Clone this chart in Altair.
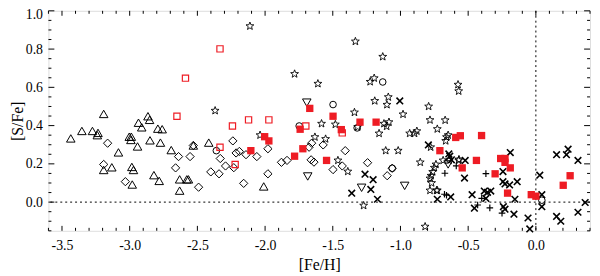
import altair as alt
import pandas as pd

# ---------------- data ----------------
tri_x = [-3.435, -3.353, -3.275, -3.234, -3.239, -3.192, -3.083, -3.132, -3.192, -3.003, -2.988, -2.991,
         -2.942, -2.984, -2.972, -2.981, -2.935, -2.911, -2.865, -2.853, -2.850, -2.792, -2.760, -2.773,
         -2.821, -2.782, -2.693, -2.631, -2.631, -2.578, -2.566, -2.530, -2.416, -2.010]
tri_y = [0.333, 0.372, 0.372, 0.362, 0.350, 0.461, 0.260, 0.182, 0.168, 0.342, 0.342, 0.325,
         0.291, 0.184, 0.168, 0.092, 0.415, 0.391, 0.449, 0.430, 0.323, 0.384, 0.381, 0.311,
         0.141, 0.111, 0.272, 0.119, 0.060, 0.119, 0.119, 0.296, 0.311, 0.082]

dia_x = [-3.163, -3.192, -3.032, -2.639, -2.661, -2.554, -2.491, -2.530, -2.331, -2.401, -2.340, -2.292,
         -2.231, -2.238, -2.214, -2.190, -2.141, -2.061, -2.158, -1.979, -1.979, -1.879, -1.838, -1.660,
         -1.639, -1.675, -1.656, -1.571, -1.498, -1.430, -1.408, -1.243, -1.098, -1.061]
dia_y = [0.308, 0.197, 0.107, 0.238, 0.179, 0.238, 0.078, 0.296, 0.228, 0.158, 0.148, 0.189,
         0.180, 0.320, 0.257, 0.265, 0.248, 0.238, 0.098, 0.279, 0.148, 0.208, 0.218, 0.221,
         0.209, 0.287, 0.308, 0.299, 0.170, 0.189, 0.269, 0.206, 0.138, 0.177]

red_open_x = [-2.588, -2.651, -2.333, -2.241, -2.122, -1.972, -2.333, -2.221, -1.699, -1.430]
red_open_y = [0.648, 0.449, 0.801, 0.398, 0.430, 0.430, 0.287, 0.197, 0.398, 0.362]

red_fill_x = [-2.105, -2.003, -1.972, -1.782, -1.721, -1.741, -1.670, -1.498, -1.437, -1.546, -1.299,
              -1.180, -0.709, -0.592, -0.558, -0.401, -0.544, -0.439, -0.301, -0.260, -0.228, -0.228,
              -0.189, -0.209, -0.034, 0.000, 0.202, 0.253]
red_fill_y = [0.269, 0.342, 0.320, 0.240, 0.279, 0.381, 0.490, 0.449, 0.379, 0.218, 0.418,
              0.418, 0.269, 0.338, 0.347, 0.348, 0.179, 0.218, 0.148, 0.228, 0.228, 0.208,
              0.179, 0.047, 0.039, 0.031, 0.088, 0.138]

star_x = [-2.112, -1.782, -2.369, -2.037, -1.333, -1.131, -1.610, -1.224, -1.194, -1.190, -1.090, -1.100,
          -0.981, -1.340, -1.583, -1.481, -1.632, -1.553, -1.316, -1.122, -1.085, -1.102, -1.158, -1.109,
          -1.017, -1.462, -1.389, -1.272, -0.792, -0.782, -0.728, -0.932, -0.896, -0.879, -0.854, -0.818,
          -0.670, -0.777, -0.738, -0.750, -0.762, -0.774, -0.782, -0.770, -0.782, -0.733, -0.660, -0.648,
          -0.666, -0.568, -0.575, -0.570, -0.641, -0.570, -0.685, -0.728]
star_y = [0.920, 0.670, 0.478, 0.350, 0.840, 0.760, 0.619, 0.629, 0.648, 0.529, 0.549, 0.509,
          0.459, 0.469, 0.410, 0.406, 0.340, 0.330, 0.393, 0.410, 0.418, 0.396, 0.359, 0.269,
          0.269, 0.218, 0.160, -0.018, 0.500, 0.429, 0.382, 0.359, 0.359, 0.371, 0.208, -0.128,
          0.428, 0.287, 0.197, 0.180, 0.158, 0.138, 0.124, 0.100, 0.061, 0.061, 0.340, 0.350,
          0.320, 0.223, 0.614, 0.580, 0.218, 0.218, 0.218, 0.061]

cross_x = [-1.005, -1.262, -1.202, -1.219, -1.360, -1.170, -0.728, -0.794, -0.643, -0.636, -0.624, -0.522,
           -0.527, -0.629, -0.471, -0.454, -0.381, -0.357, -0.333, -0.369, -0.243, -0.243, -0.228, -0.194,
           -0.138, -0.189, -0.240, -0.228, -0.162, -0.155, -0.058, 0.029, 0.044, 0.044, 0.153, 0.226,
           0.238, 0.311, 0.153, 0.184, 0.311, 0.364, -0.045]
cross_y = [0.529, 0.146, 0.117, 0.066, 0.047, 0.015, 0.015, 0.299, 0.252, 0.240, 0.221, 0.218,
           0.126, 0.027, 0.039, -0.032, 0.058, 0.051, 0.058, 0.019, 0.160, 0.107, 0.095, 0.090,
           0.107, 0.259, -0.024, -0.037, -0.063, 0.015, -0.083, 0.141, 0.039, -0.024, 0.248, 0.248,
           0.277, 0.218, -0.075, -0.100, -0.053, -0.002, -0.140]

plus_x = [-0.672, -0.588, -0.369, -0.675, -0.660, -0.430, -0.400, -0.340, -0.250]
plus_y = [0.151, 0.189, 0.149, 0.041, 0.036, -0.015, 0.020, -0.030, -0.058]

itri_x = [-1.692, -1.685, -1.287, -0.969, -0.648]
itri_y = [0.520, 0.134, 0.075, 0.085, 0.197]

circ_x = [-2.360, -1.748, -1.498, -1.131, -1.320, 0.044, -1.061]
circ_y = [0.269, 0.398, 0.510, 0.628, 0.388, 0.010, 0.177]

# axis ticks / labels
x_labels = [-3.5, -3.0, -2.5, -2.0, -1.5, -1.0, -0.5, 0.0]
x_minor = [-3.6, -3.4, -3.3, -3.2, -3.1, -2.9, -2.8, -2.7, -2.6, -2.4, -2.3, -2.2, -2.1, -1.9, -1.8,
           -1.7, -1.6, -1.4, -1.3, -1.2, -1.1, -0.9, -0.8, -0.7, -0.6, -0.4, -0.3, -0.2, -0.1, 0.1,
           0.2, 0.3, 0.4]
y_labels = [0.0, 0.2, 0.4, 0.6, 0.8, 1.0]
y_minor = [-0.15, -0.1, -0.05, 0.05, 0.1, 0.15, 0.25, 0.3, 0.35, 0.45, 0.5, 0.55, 0.65, 0.7, 0.75,
           0.85, 0.9, 0.95]

# ---------------- chart ----------------
W, H = 549, 223
FONT = "Liberation Serif"
RED = "#ee1c24"

xscale = alt.Scale(domain=[-3.6, 0.4], nice=False, zero=False)
yscale = alt.Scale(domain=[-0.15, 1.0], nice=False, zero=False)

xaxis = alt.Axis(values=x_labels, ticks=False, domain=False, grid=False,
                 labelExpr="datum.value < 0 ? '-' + format(-datum.value, '.1f') : format(datum.value, '.1f')",
                 labelFont=FONT, labelFontSize=14, labelColor="black", labelPadding=8,
                 title="[Fe/H]", titleFont=FONT, titleFontSize=16, titleFontWeight="normal",
                 titleColor="black", titlePadding=4)
yaxis = alt.Axis(values=y_labels, ticks=False, domain=False, grid=False, format=".1f",
                 labelFont=FONT, labelFontSize=14, labelColor="black", labelPadding=6,
                 labelFlush=True, labelFlushOffset=3,
                 title="[S/Fe]", titleFont=FONT, titleFontSize=16, titleFontWeight="normal",
                 titleColor="black", titleX=-31, titleBaseline="middle")

X = alt.X("x:Q", scale=xscale, axis=xaxis)
Y = alt.Y("y:Q", scale=yscale, axis=yaxis)


def xticks(vals, length):
    df = pd.DataFrame({"x": vals})
    bot = alt.Chart(df).mark_rule(color="black", strokeWidth=1).encode(
        x=X, y=alt.value(H), y2=alt.value(H - length))
    top = alt.Chart(df).mark_rule(color="black", strokeWidth=1).encode(
        x=X, y=alt.value(0), y2=alt.value(length))
    return [bot, top]


def yticks(vals, length):
    df = pd.DataFrame({"y": vals})
    left = alt.Chart(df).mark_rule(color="black", strokeWidth=1).encode(
        y=Y, x=alt.value(0), x2=alt.value(length))
    right = alt.Chart(df).mark_rule(color="black", strokeWidth=1).encode(
        y=Y, x=alt.value(W), x2=alt.value(W - length))
    return [left, right]


def pts(xs, ys, shape, size, filled=False, color="black", sw=1.0):
    df = pd.DataFrame({"x": xs, "y": ys})
    if filled:
        mk = alt.Chart(df).mark_point(shape=shape, size=size, filled=True, fill=color,
                                      strokeWidth=0, opacity=1)
    else:
        mk = alt.Chart(df).mark_point(shape=shape, size=size, filled=False, stroke=color,
                                      strokeWidth=sw, opacity=1)
    return mk.encode(x=X, y=Y)


zero_h = alt.Chart(pd.DataFrame({"y": [0.0]})).mark_rule(
    color="black", strokeWidth=1, strokeDash=[2, 3]).encode(y=Y)
zero_v = alt.Chart(pd.DataFrame({"x": [0.0]})).mark_rule(
    color="black", strokeWidth=1, strokeDash=[2, 3]).encode(x=X)

XPATH = "M-1,-1L1,1M-1,1L1,-1"
PPATH = "M-1,0L1,0M0,-1L0,1"
STAR = ("M0,-1L0.25,-0.34L0.951,-0.309L0.4,0.13L0.588,0.809L0,0.42L-0.588,0.809"
        "L-0.4,0.13L-0.951,-0.309L-0.25,-0.34Z")

layers = [zero_h, zero_v]
layers += xticks(x_labels, 5) + xticks(x_minor, 3)
layers += yticks(y_labels, 6) + yticks(y_minor, 3)
layers += [
    pts(tri_x, tri_y, "triangle-up", 75),
    pts(itri_x, itri_y, "triangle-down", 75),
    pts(dia_x, dia_y, "diamond", 70),
    pts(circ_x, circ_y, "circle", 45),
    pts(star_x, star_y, STAR, 70, sw=0.9),
    pts(cross_x, cross_y, XPATH, 45, sw=1.6),
    pts(plus_x, plus_y, PPATH, 45, sw=1.2),
    pts(red_open_x, red_open_y, "square", 40, color=RED, sw=1.2),
    pts(red_fill_x, red_fill_y, "square", 55, filled=True, color=RED),
]

chart = alt.layer(*layers).properties(
    width=W, height=H,
    autosize=alt.AutoSizeParams(type="none"),
    padding={"left": 41, "top": 1, "right": 2, "bottom": 48},
).configure_view(stroke="black", strokeWidth=1).configure(background="white")

chart.save("out.html", embed_options={"renderer": "svg", "actions": False})
